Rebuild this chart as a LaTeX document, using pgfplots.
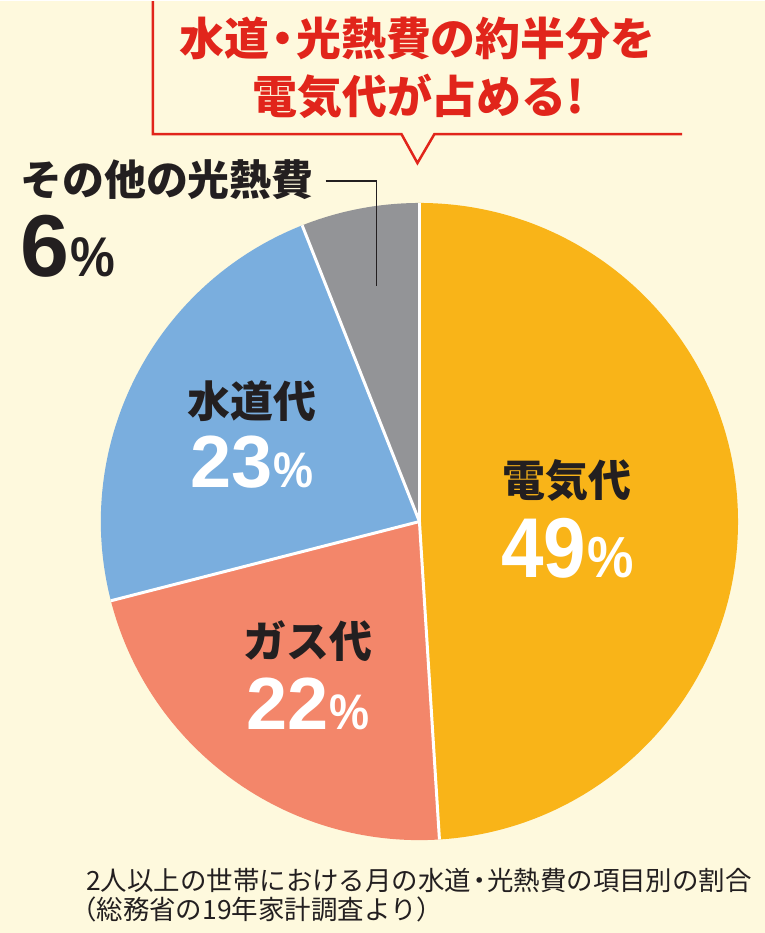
\documentclass[border=0pt]{standalone}
\usepackage{pgfplots}
\pgfplotsset{compat=1.18}
\usepackage{pgfplotstable}
\usepackage{fontspec}
\usepackage{graphicx}
\setmainfont{Liberation Sans}
\newfontfamily\jp{Noto Sans CJK JP}
\newfontfamily\num{Liberation Sans}
\definecolor{bg}{HTML}{FEF9DD}
\definecolor{elec}{HTML}{F9B418}
\definecolor{gas}{HTML}{F3866A}
\definecolor{water}{HTML}{7AAEDE}
\definecolor{other}{HTML}{939497}
\definecolor{titlered}{HTML}{E1251B}
\definecolor{ink}{HTML}{231F20}

\pgfplotstableread{
slice value
elec 49
gas 22
water 23
other 6
}\piedata

% #1 digit size, #2 percent size, #3 digits, #4 horizontal scale of digits
\newcommand\pct[4]{\num\bfseries\scalebox{#4}[1]{\fontsize{#1}{#1}\selectfont #3}\kern1pt\scalebox{0.9}[1]{\fontsize{#2}{#2}\selectfont\%}}

\begin{document}
\begin{tikzpicture}
\pgfplotstablegetelem{0}{value}\of\piedata \pgfmathsetmacro\vA{\pgfplotsretval}
\pgfplotstablegetelem{1}{value}\of\piedata \pgfmathsetmacro\vB{\pgfplotsretval}
\pgfplotstablegetelem{2}{value}\of\piedata \pgfmathsetmacro\vC{\pgfplotsretval}
\pgfplotstablegetelem{3}{value}\of\piedata \pgfmathsetmacro\vD{\pgfplotsretval}
\pgfmathsetmacro\aA{90-3.6*\vA}
\pgfmathsetmacro\aB{\aA-3.6*\vB}
\pgfmathsetmacro\aC{\aB-3.6*\vC}
\pgfmathsetmacro\aD{\aC-3.6*\vD}
\def\R{319pt}
\begin{axis}[scale only axis, width=766pt, height=933pt,
  xmin=0, xmax=766, ymin=-933, ymax=0, hide axis, clip=false]
\fill[bg] (axis cs:0,0) rectangle (axis cs:766,-933);
% slices
\fill[elec]  (axis cs:420,-521) -- ++(90:\R) arc[start angle=90, end angle=\aA, radius=\R] -- cycle;
\fill[gas]   (axis cs:420,-521) -- ++(\aA:\R) arc[start angle=\aA, end angle=\aB, radius=\R] -- cycle;
\fill[water] (axis cs:420,-521) -- ++(\aB:\R) arc[start angle=\aB, end angle=\aC, radius=\R] -- cycle;
\fill[other] (axis cs:420,-521) -- ++(\aC:\R) arc[start angle=\aC, end angle=\aD, radius=\R] -- cycle;
% separators
\draw[white, line width=3pt] (axis cs:420,-521) -- ++(90:\R);
\draw[white, line width=3pt] (axis cs:420,-521) -- ++(\aA:\R);
\draw[white, line width=3pt] (axis cs:420,-521) -- ++(\aB:\R);
\draw[white, line width=3pt] (axis cs:420,-521) -- ++(\aC:\R);
% callout
\draw[titlered, line width=2.5pt, line join=miter]
  (axis cs:153,0) -- (axis cs:153,-133) -- (axis cs:402,-133) -- (axis cs:418,-162)
  -- (axis cs:435,-133) -- (axis cs:683,-133);
\node[text=titlered, font=\jp\bfseries\fontsize{45}{45}\selectfont, anchor=center] at (axis cs:418,-37) {水道\kern-0.2em・\kern-0.2em光熱費の約半分を};
\node[text=titlered, font=\jp\bfseries\fontsize{45}{45}\selectfont, anchor=center] at (axis cs:419,-95) {電気代が占める!};
% leader
\draw[ink, line width=2pt] (axis cs:326,-180) -- (axis cs:377,-180) -- (axis cs:377,-285);
\node[text=ink, font=\jp\bfseries\fontsize{42}{42}\selectfont, anchor=west, inner sep=0pt] at (axis cs:20,-179) {その他の光熱費};
\node[text=ink, anchor=base west, inner sep=0pt] at (axis cs:20,-276) {\pct{88}{56}{6}{1}};
% labels
\node[text=ink, font=\jp\bfseries\fontsize{43}{43}\selectfont, anchor=center, inner sep=0pt] at (axis cs:568,-480) {電気代};
\node[text=white, anchor=base, inner sep=0pt] at (axis cs:568,-577) {\pct{85}{58}{49}{0.9}};
\node[text=ink, font=\jp\bfseries\fontsize{43}{43}\selectfont, anchor=center, inner sep=0pt] at (axis cs:252,-400) {水道代};
\node[text=white, anchor=base, inner sep=0pt] at (axis cs:252,-487) {\pct{74}{50}{23}{1}};
\node[text=ink, font=\jp\bfseries\fontsize{43}{43}\selectfont, anchor=center, inner sep=0pt] at (axis cs:308,-641) {ガス代};
\node[text=white, anchor=base, inner sep=0pt] at (axis cs:308,-729) {\pct{74}{50}{22}{1}};
% footnote
\node[text=ink, font=\jp\fontsize{26.5}{26.5}\selectfont, anchor=west, inner sep=0pt] at (axis cs:86,-880) {2人以上の世帯における月の水道\kern-0.2em・\kern-0.2em光熱費の項目別の割合};
\node[text=ink, font=\jp\fontsize{26.5}{26.5}\selectfont, anchor=west, inner sep=0pt] at (axis cs:70,-909) {（総務省の19年家計調査より）};
\end{axis}
\end{tikzpicture}
\end{document}
